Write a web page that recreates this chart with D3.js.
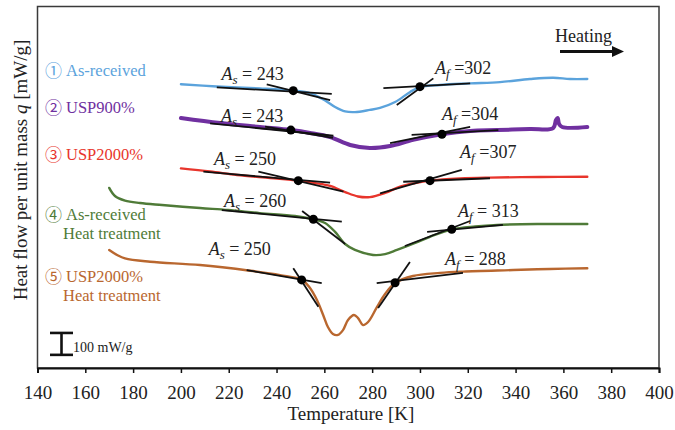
<!DOCTYPE html>
<html lang="en">
<head>
  <meta charset="UTF-8">
  <title>DSC heating curves</title>
  <script src="https://d3js.org/d3.v7.min.js"></script>
  <style>
    body { margin: 0; background: #fff; }
    svg { display: block; font-family: "Liberation Serif", "Times New Roman", serif; }
  </style>
</head>
<body>
  <div id="chart"></div>
  <script>
    // temperature [K], heat flow [mW/g] (curves are offset vertically, only the scale bar matters)
    const xTicks = [140, 160, 180, 200, 220, 240, 260, 280, 300, 320, 340, 360, 380, 400];

    const asReceived = [[200,1295],[215,1285],[233,1276],[247,1266],[254,1255],[260,1223],[264.5,1191],[268.7,1171],
      [272.8,1168],[279,1178],[283.3,1187],[289.6,1214],[295.9,1260],[300,1282],[308.4,1292],[321,1299],
      [333.5,1305],[346,1319],[355.7,1325],[362.8,1319],[370,1319]];
    const usp900 = [[200,1141],[216.4,1118],[233,1100],[246.1,1086],[254,1073],[262.4,1054],[270.8,1018],[279,1004],
      [287.5,1013],[297.1,1041],[309.7,1068],[321,1082],[332.3,1086],[346,1091],[355.7,1095],[356.9,1132],
      [357.6,1141],[358.2,1114],[359.5,1100],[370,1100]];
    const usp2000 = [[200,911],[212.2,897],[223.5,881],[237.3,867],[249,855],[256.1,844],[262.4,831],[268.7,803],
      [274.1,783],[279,780],[285.4,799],[291.7,828],[298,844],[304.2,855],[316.8,865],[329.3,869],[350.3,872],[370,873]];
    const asReceivedHT = [[170,822],[172.4,785],[176.6,764],[182.9,753],[192.1,744],[208,730],[219.7,721],[233,707],
      [247.7,694],[255.3,679],[260.3,662],[264.5,621],[268.7,566],[272.8,539],[280.4,516],[285.4,520],[290.4,539],
      [298,571],[304.2,599],[313.4,633],[323.1,646],[332.3,653],[349,657],[370,657]];
    const usp2000HT = [[170,539],[173.3,516],[176.6,500],[187.1,485],[208,470],[228.9,444],[241.5,424],[250.7,402],
      [254,365],[256.9,310],[259.5,242],[261.5,187],[263.6,155],[265.7,151],[267.8,173],[269.9,219],[272.4,242],
      [274.1,228],[276.2,196],[278.3,210],[282,278],[285.4,338],[289.6,388],[297.1,420],[308.4,434],[318,440],
      [339,447],[354.4,452],[370,455]];

    const seriesData = [asReceived, usp900, usp2000, asReceivedHT, usp2000HT];
    const seriesColors = ["#5ba3dc", "#7030a0", "#e8352c", "#4f7b38", "#b9672f"];
    const seriesWidths = [2.4, 4, 2.4, 2.4, 2.4];
    const legendNumbers = ["①", "②", "③", "④", "⑤"];
    const legendLines = [["As-received"], ["USP900%"], ["USP2000%"], ["As-received", "Heat treatment"], ["USP2000%", "Heat treatment"]];

    // tangent construction lines: [T1, v1, T2, v2]
    const tangents = [
      [215,1281,263.1,1251],[235.9,1295,262.4,1223],[284.7,1277,321,1299],[290.3,1200,305.6,1322],
      [212.2,1117,263.8,1060],[235.2,1102,263.6,1050],[296.5,1064,332.8,1086],[287.5,1026,321,1101],
      [209.4,896,262.4,846],[232.4,896,268,805],[293,850,329.3,866],[283.3,797,317.5,904],
      [217.1,721,267.3,668],[250.7,717,268.7,566],[303,621,334.7,653],[293.7,557,321,671],
      [227.5,447,258.9,387],[247,455,257.5,280],[281.9,387,318,434],[282.5,274,295.8,484]
    ];
    // onset / finish points
    const onsetPoints = [[247,1266],[300,1284],[246,1086],[309.2,1067],[249.1,855],[304.2,855],
      [255.4,679],[313.3,633],[250.5,402],[289.6,389]];
    // As / Af labels: [subscript, value text, T, v]
    const transitionLabels = [
      ["s","= 243",217,1314],["f","=302",306.3,1342],
      ["s","= 243",216.8,1124],["f","=304",309.2,1132],
      ["s","= 250",213.8,926],["f","=307",316.8,958],
      ["s","= 260",218,735],["f","= 313",315.9,689],
      ["s","= 250",211.6,516],["f","= 288",310.5,470]
    ];

    const width = 675, height = 430;
    const svg = d3.select('#chart').append('svg')
      .attr('width', width).attr('height', height);

    const x = d3.scaleLinear().domain([140, 400]).range([37.5, 659]);
    const y = d3.scaleLinear().domain([0, 1650]).range([368, 6.5]);

    // frame
    svg.append('rect')
      .attr('x', 37.5).attr('y', 6.5)
      .attr('width', 621.5).attr('height', 361.5)
      .attr('fill', 'none').attr('stroke', '#3a3a3a').attr('stroke-width', 1.5);

    const xAxis = svg.append('g')
      .attr('transform', 'translate(0,368)')
      .call(d3.axisBottom(x).tickValues(xTicks).tickSize(5).tickPadding(13).tickFormat(d3.format('d')));
    xAxis.attr('font-family', null);
    xAxis.select('.domain').attr('stroke', '#111').attr('stroke-width', 2);
    xAxis.selectAll('.tick line').attr('stroke', '#111').attr('stroke-width', 1.5);
    xAxis.selectAll('.tick text').attr('font-size', 19).attr('fill', '#222');

    svg.append('text')
      .attr('x', 351).attr('y', 420)
      .attr('text-anchor', 'middle').attr('font-size', 19).attr('fill', '#222')
      .text('Temperature [K]');

    const yTitle = svg.append('text')
      .attr('transform', 'translate(27,170) rotate(-90)')
      .attr('text-anchor', 'middle').attr('font-size', 19).attr('fill', '#222');
    yTitle.append('tspan').text('Heat flow per unit mass ');
    yTitle.append('tspan').attr('font-style', 'italic').text('q');
    yTitle.append('tspan').text(' [mW/g]');

    // curves
    const line = d3.line().x(d => x(d[0])).y(d => y(d[1])).curve(d3.curveCatmullRom.alpha(0.5));
    svg.append('g').selectAll('path')
      .data(seriesData)
      .enter().append('path')
      .attr('d', line)
      .attr('fill', 'none')
      .attr('stroke', (d, i) => seriesColors[i])
      .attr('stroke-width', (d, i) => seriesWidths[i])
      .attr('stroke-linejoin', 'round').attr('stroke-linecap', 'round');

    // tangent lines and points
    svg.append('g').selectAll('line')
      .data(tangents)
      .enter().append('line')
      .attr('x1', d => x(d[0])).attr('y1', d => y(d[1]))
      .attr('x2', d => x(d[2])).attr('y2', d => y(d[3]))
      .attr('stroke', '#111').attr('stroke-width', 1.8);

    svg.append('g').selectAll('circle')
      .data(onsetPoints)
      .enter().append('circle')
      .attr('cx', d => x(d[0])).attr('cy', d => y(d[1]))
      .attr('r', 4.5).attr('fill', '#000');

    const labels = svg.append('g').selectAll('text')
      .data(transitionLabels)
      .enter().append('text')
      .attr('x', d => x(d[2])).attr('y', d => y(d[3]))
      .attr('font-size', 18).attr('fill', '#222');
    labels.append('tspan').attr('font-style', 'italic').text('A');
    labels.append('tspan').attr('font-style', 'italic').attr('font-size', 13).attr('dy', 4).text(d => d[0]);
    labels.append('tspan').attr('dy', -4).text(d => ' ' + d[1]);

    // legend text on the left
    const legendY = [76, 113, 160, 220, 282];
    legendNumbers.forEach((num, i) => {
      svg.append('text')
        .attr('x', 45).attr('y', legendY[i] + 1)
        .style('font-family', '"Noto Sans CJK JP", "DejaVu Sans", sans-serif')
        .attr('font-size', 17).attr('fill', seriesColors[i])
        .text(num);
      legendLines[i].forEach((t, j) => {
        svg.append('text')
          .attr('x', j === 0 ? 66 : 63).attr('y', legendY[i] + j * 19)
          .attr('font-size', 16.5).attr('fill', seriesColors[i])
          .text(t);
      });
    });

    // heating arrow
    svg.append('text')
      .attr('x', 555).attr('y', 42)
      .attr('font-size', 18).attr('fill', '#222')
      .text('Heating');
    svg.append('line')
      .attr('x1', 560).attr('y1', 51.5).attr('x2', 614).attr('y2', 51.5)
      .attr('stroke', '#111').attr('stroke-width', 3);
    svg.append('path')
      .attr('d', 'M612,46 L624,51.5 L612,57 Z')
      .attr('fill', '#111');

    // 100 mW/g scale bar
    const barTop = y(160), barBottom = y(60);
    const bar = svg.append('g').attr('stroke', '#111').attr('stroke-width', 2.6);
    bar.append('line').attr('x1', 61.5).attr('x2', 61.5).attr('y1', barTop).attr('y2', barBottom);
    bar.append('line').attr('x1', 50).attr('x2', 73).attr('y1', barTop).attr('y2', barTop);
    bar.append('line').attr('x1', 50).attr('x2', 73).attr('y1', barBottom).attr('y2', barBottom);
    svg.append('text')
      .attr('x', 73).attr('y', 352)
      .attr('font-size', 14).attr('fill', '#222')
      .text('100 mW/g');
  </script>
</body>
</html>
